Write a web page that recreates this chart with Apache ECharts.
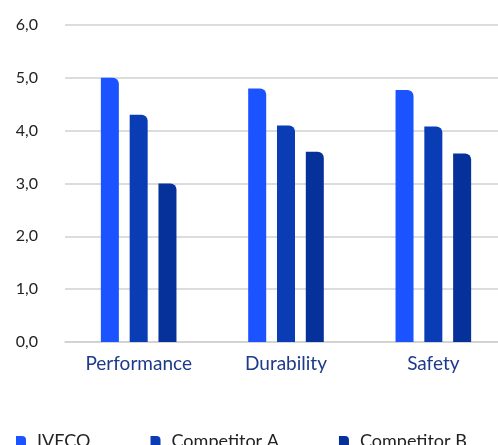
<!DOCTYPE html>
<html><head><meta charset="utf-8">
<script src="https://cdn.jsdelivr.net/npm/echarts@6/dist/echarts.min.js"></script>
<style>html,body{margin:0;padding:0;background:#fff}#c{width:498px;height:445px}</style>
</head><body><div id="c"></div>
<script>
var categories = ['Performance', 'Durability', 'Safety'];
var seriesNames = ['IVECO', 'Competitor A', 'Competitor B'];
var iveco = [5.0, 4.8, 4.77];
var competitorA = [4.3, 4.1, 4.08];
var competitorB = [3.0, 3.6, 3.57];
var yTicks = [0, 1, 2, 3, 4, 5, 6];
var colors = ['#1a53ff', '#0a3cb5', '#06309a'];

var chart = echarts.init(document.getElementById('c'), null, {renderer: 'canvas'});
var font = 'Lato, "Open Sans", sans-serif';
var icon = 'path://M0,0 L6,0 Q10,0 10,4 L10,10 L0,10 Z';
function mk(name, data, i) {
  return {
    name: name, type: 'bar', data: data, barWidth: 18, barGap: '60%',
    itemStyle: {color: colors[i], borderRadius: [0, 6, 0, 0]}
  };
}
chart.setOption({
  animation: false,
  color: colors,
  grid: {left: 65, width: 442, top: 25, bottom: 103, containLabel: false, outerBoundsMode: 'none'},
  legend: {
    left: 16, top: 432, padding: 0, itemWidth: 10, itemHeight: 10, itemGap: 60, icon: icon,
    textStyle: {fontFamily: font, fontSize: 18, color: '#222', padding: [0, 0, 0, 6]},
    data: seriesNames.map(function(n){return {name: n, icon: icon};})
  },
  xAxis: {
    type: 'category', data: categories,
    axisLine: {lineStyle: {color: '#d0d0d0', width: 1.5}},
    axisTick: {show: false},
    axisLabel: {fontFamily: font, fontSize: 19, color: '#1e3a8a', margin: 12}
  },
  yAxis: {
    type: 'value', min: yTicks[0], max: yTicks[yTicks.length - 1], interval: 1,
    axisLine: {show: false}, axisTick: {show: false},
    splitLine: {lineStyle: {color: '#d0d0d0', width: 1.5}},
    axisLabel: {fontFamily: font, fontSize: 16, color: '#222', margin: 27,
      formatter: function(v){ return v.toFixed(1).replace('.', ','); }}
  },
  series: [mk(seriesNames[0], iveco, 0), mk(seriesNames[1], competitorA, 1), mk(seriesNames[2], competitorB, 2)]
});
</script></body></html>
